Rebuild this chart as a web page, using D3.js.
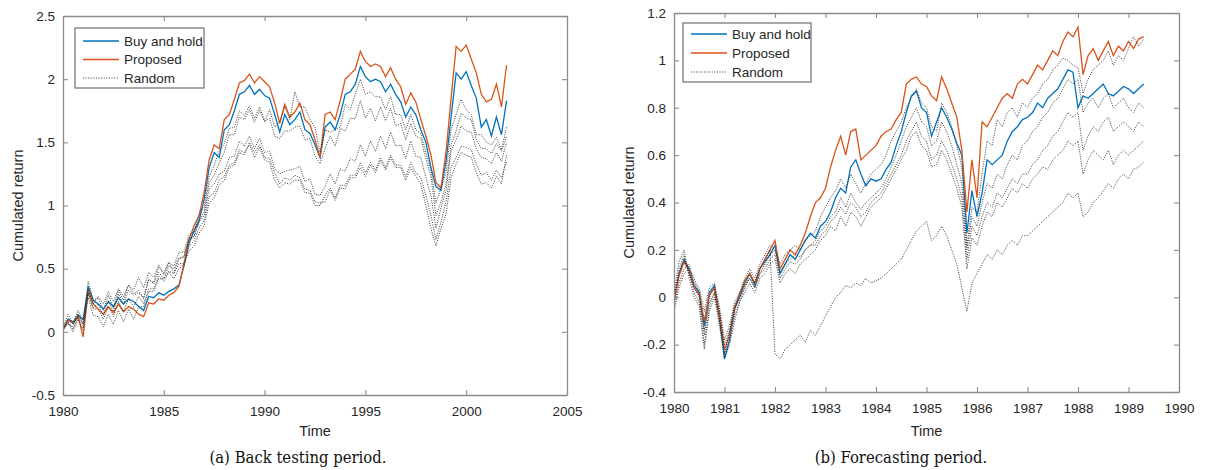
<!DOCTYPE html>
<html><head><meta charset="utf-8">
<script src="https://cdn.jsdelivr.net/npm/d3@7"></script>
<style>
html,body{margin:0;padding:0;background:#fff;}
svg text{font-family:"Liberation Sans",Arial,Helvetica,sans-serif;fill:#262626;}
svg text.caption{font-family:"DejaVu Serif Condensed","DejaVu Serif",serif;font-stretch:condensed;fill:#111;}
</style></head><body>
<svg id="chart" width="1206" height="470"></svg>
<script>
// ---------------- Panel (a): back testing period, sampled every quarter year 1980..2002
const timeA = d3.range(0, 89).map(i => 1980 + i * 0.25);
const buyHoldA = [
0.02, 0.10, 0.08, 0.13,
0.10, 0.36, 0.25, 0.22,
0.18, 0.24, 0.20, 0.27,
0.22, 0.26, 0.24, 0.20,
0.17, 0.28, 0.27, 0.31,
0.29, 0.32, 0.34, 0.37,
0.52, 0.70, 0.80, 0.88,
1.05, 1.30, 1.42, 1.38,
1.60, 1.64, 1.75, 1.88,
1.90, 1.95, 1.88, 1.92,
1.87, 1.85, 1.72, 1.58,
1.72, 1.64, 1.68, 1.74,
1.60, 1.57, 1.48, 1.38,
1.62, 1.66, 1.60, 1.72,
1.88, 1.90, 1.96, 2.10,
2.02, 1.98, 2.00, 1.98,
1.90, 1.96, 1.88, 1.82,
1.70, 1.78, 1.72, 1.60,
1.50, 1.30, 1.15, 1.12,
1.35, 1.70, 2.05, 2.00,
2.06, 1.95, 1.85, 1.62,
1.68, 1.55, 1.70, 1.56,
1.83];
const proposedA = [
0.02, 0.09, 0.07, 0.12,
-0.04, 0.33, 0.22, 0.18,
0.14, 0.20, 0.15, 0.22,
0.16, 0.20, 0.18, 0.14,
0.12, 0.23, 0.22, 0.26,
0.25, 0.29, 0.31, 0.36,
0.54, 0.73, 0.84, 0.92,
1.10, 1.36, 1.48, 1.45,
1.68, 1.72, 1.84, 1.97,
1.99, 2.04, 1.97, 2.02,
1.98, 1.94, 1.81, 1.65,
1.80, 1.70, 1.74, 1.81,
1.68, 1.64, 1.52, 1.38,
1.72, 1.74, 1.68, 1.83,
2.00, 2.04, 2.08, 2.22,
2.14, 2.10, 2.12, 2.10,
2.02, 2.09, 2.00, 1.94,
1.80, 1.89, 1.82, 1.68,
1.55, 1.40, 1.18, 1.14,
1.42, 1.85, 2.26, 2.22,
2.27, 2.16, 2.05, 1.88,
1.82, 1.84, 1.96, 1.78,
2.11];
const randomA1 = [
0.02, 0.10, 0.06, 0.14,
0.06, 0.34, 0.22, 0.28,
0.22, 0.32, 0.24, 0.34,
0.28, 0.37, 0.30, 0.33,
0.26, 0.42, 0.38, 0.47,
0.42, 0.52, 0.50, 0.58,
0.60, 0.74, 0.76, 0.88,
0.95, 1.18, 1.24, 1.34,
1.42, 1.56, 1.56, 1.70,
1.68, 1.76, 1.66, 1.75,
1.66, 1.76, 1.62, 1.66,
1.78, 1.68, 1.90, 1.78,
1.78, 1.68, 1.62, 1.42,
1.60, 1.58, 1.60, 1.62,
1.80, 1.76, 1.88, 2.00,
1.88, 1.90, 1.86, 1.86,
1.76, 1.86, 1.72, 1.72,
1.60, 1.72, 1.60, 1.57,
1.42, 1.28, 1.02, 1.14,
1.26, 1.60, 1.72, 1.84,
1.76, 1.72, 1.56, 1.56,
1.50, 1.48, 1.54, 1.44,
1.62];
const randomA2 = [
0.03, 0.14, 0.06, 0.17,
0.08, 0.31, 0.19, 0.22,
0.13, 0.24, 0.16, 0.30,
0.22, 0.33, 0.29, 0.31,
0.27, 0.41, 0.39, 0.51,
0.47, 0.55, 0.52, 0.63,
0.63, 0.77, 0.79, 0.93,
0.99, 1.23, 1.32, 1.43,
1.49, 1.61, 1.62, 1.75,
1.71, 1.79, 1.69, 1.78,
1.67, 1.69, 1.55, 1.53,
1.59, 1.59, 1.62, 1.63,
1.52, 1.53, 1.39, 1.33,
1.45, 1.55, 1.47, 1.61,
1.59, 1.69, 1.69, 1.83,
1.69, 1.77, 1.67, 1.78,
1.67, 1.77, 1.63, 1.65,
1.52, 1.65, 1.55, 1.53,
1.37, 1.23, 0.92, 1.03,
1.17, 1.48, 1.59, 1.73,
1.69, 1.68, 1.52, 1.45,
1.45, 1.41, 1.49, 1.43,
1.55];
const randomA3 = [
0.02, 0.08, 0.02, 0.12,
0.03, 0.40, 0.25, 0.27,
0.17, 0.29, 0.19, 0.33,
0.25, 0.37, 0.33, 0.43,
0.35, 0.47, 0.43, 0.53,
0.45, 0.55, 0.47, 0.58,
0.59, 0.73, 0.75, 0.87,
0.92, 1.13, 1.17, 1.25,
1.27, 1.38, 1.39, 1.51,
1.47, 1.55, 1.45, 1.53,
1.42, 1.43, 1.29, 1.25,
1.27, 1.28, 1.29, 1.31,
1.19, 1.21, 1.09, 1.08,
1.15, 1.25, 1.17, 1.29,
1.27, 1.37, 1.35, 1.48,
1.39, 1.51, 1.43, 1.55,
1.45, 1.58, 1.47, 1.48,
1.37, 1.51, 1.39, 1.38,
1.22, 1.08, 0.82, 0.98,
1.12, 1.43, 1.52, 1.63,
1.59, 1.58, 1.45, 1.38,
1.37, 1.33, 1.42, 1.35,
1.50];
const randomA4 = [
0.01, 0.07, 0.00, 0.10,
0.01, 0.27, 0.13, 0.12,
0.04, 0.14, 0.06, 0.17,
0.08, 0.18, 0.10, 0.20,
0.20, 0.32, 0.32, 0.42,
0.42, 0.48, 0.46, 0.54,
0.54, 0.68, 0.72, 0.82,
0.88, 1.07, 1.10, 1.20,
1.23, 1.32, 1.34, 1.44,
1.42, 1.48, 1.38, 1.46,
1.36, 1.34, 1.20, 1.14,
1.18, 1.17, 1.20, 1.20,
1.10, 1.10, 1.00, 1.00,
1.08, 1.14, 1.06, 1.16,
1.16, 1.24, 1.24, 1.34,
1.26, 1.34, 1.28, 1.38,
1.30, 1.40, 1.32, 1.32,
1.23, 1.34, 1.26, 1.22,
1.08, 0.92, 0.73, 0.87,
1.03, 1.30, 1.38, 1.47,
1.46, 1.44, 1.33, 1.24,
1.26, 1.20, 1.28, 1.22,
1.35];
const randomA5 = [
0.02, 0.06, 0.04, 0.14,
0.06, 0.30, 0.18, 0.18,
0.10, 0.20, 0.12, 0.24,
0.16, 0.26, 0.20, 0.28,
0.22, 0.34, 0.34, 0.44,
0.40, 0.47, 0.42, 0.50,
0.53, 0.64, 0.68, 0.78,
0.84, 1.02, 1.06, 1.16,
1.20, 1.30, 1.32, 1.42,
1.40, 1.50, 1.42, 1.48,
1.38, 1.37, 1.26, 1.17,
1.22, 1.20, 1.24, 1.22,
1.13, 1.12, 1.03, 1.02,
1.03, 1.12, 1.04, 1.14,
1.13, 1.22, 1.22, 1.30,
1.23, 1.32, 1.26, 1.36,
1.28, 1.38, 1.30, 1.30,
1.20, 1.30, 1.23, 1.17,
1.00, 0.82, 0.68, 0.82,
0.93, 1.22, 1.33, 1.42,
1.40, 1.38, 1.26, 1.17,
1.18, 1.14, 1.23, 1.17,
1.40];
const xTicksA = [1980, 1985, 1990, 1995, 2000, 2005];
const yTicksA = [-0.5, 0, 0.5, 1, 1.5, 2, 2.5];

// ---------------- Panel (b): forecasting period, sampled every 0.1 year 1980..1989.3
const timeB = d3.range(0, 94).map(i => 1980 + i * 0.1);
const buyHoldB = [
-0.02, 0.10, 0.16, 0.12, 0.05, 0.02, -0.12, 0.02, 0.05, -0.08,
-0.26, -0.18, -0.05, 0.00, 0.06, 0.10, 0.05, 0.12, 0.15, 0.18,
0.22, 0.10, 0.14, 0.18, 0.16, 0.20, 0.24, 0.27, 0.25, 0.30,
0.32, 0.36, 0.42, 0.46, 0.44, 0.55, 0.58, 0.52, 0.47, 0.50,
0.49, 0.50, 0.54, 0.57, 0.64, 0.70, 0.78, 0.85, 0.87, 0.80,
0.78, 0.68, 0.74, 0.80, 0.76, 0.71, 0.65, 0.60, 0.27, 0.45,
0.34, 0.44, 0.58, 0.56, 0.58, 0.60, 0.66, 0.70, 0.72, 0.75,
0.76, 0.78, 0.82, 0.80, 0.84, 0.86, 0.88, 0.92, 0.96, 0.95,
0.80, 0.85, 0.84, 0.86, 0.88, 0.90, 0.86, 0.85, 0.87, 0.89,
0.88, 0.86, 0.88, 0.90];
const proposedB = [
-0.02, 0.09, 0.15, 0.11, 0.04, 0.01, -0.10, 0.01, 0.04, -0.07,
-0.22, -0.16, -0.04, 0.01, 0.07, 0.10, 0.06, 0.12, 0.16, 0.20,
0.24, 0.12, 0.16, 0.20, 0.18, 0.22, 0.27, 0.34, 0.40, 0.42,
0.46, 0.55, 0.62, 0.68, 0.60, 0.70, 0.71, 0.58, 0.60, 0.62,
0.64, 0.68, 0.70, 0.71, 0.75, 0.78, 0.90, 0.92, 0.93, 0.90,
0.89, 0.85, 0.83, 0.93, 0.88, 0.82, 0.76, 0.62, 0.36, 0.58,
0.42, 0.74, 0.72, 0.76, 0.80, 0.84, 0.86, 0.84, 0.90, 0.92,
0.90, 0.94, 0.98, 0.96, 1.00, 1.04, 1.02, 1.08, 1.12, 1.10,
1.14, 0.94, 1.02, 1.05, 1.00, 1.04, 1.08, 1.02, 1.06, 1.04,
1.08, 1.05, 1.09, 1.10];
const randomB1 = [
0.00, 0.12, 0.18, 0.10, 0.02, -0.02, -0.20, -0.04, 0.02, -0.10,
-0.24, -0.14, -0.06, 0.02, 0.08, 0.12, 0.08, 0.14, 0.18, 0.22,
0.20, 0.14, 0.18, 0.20, 0.22, 0.20, 0.24, 0.26, 0.28, 0.34,
0.38, 0.42, 0.45, 0.50, 0.46, 0.52, 0.48, 0.44, 0.48, 0.52,
0.54, 0.56, 0.60, 0.66, 0.70, 0.74, 0.80, 0.84, 0.88, 0.82,
0.80, 0.72, 0.70, 0.82, 0.78, 0.72, 0.64, 0.55, 0.22, 0.38,
0.36, 0.52, 0.66, 0.64, 0.75, 0.72, 0.78, 0.80, 0.76, 0.82,
0.80, 0.84, 0.86, 0.90, 0.92, 0.96, 0.98, 1.01, 1.00, 0.98,
0.97, 0.86, 0.92, 0.96, 0.98, 1.00, 1.04, 0.98, 1.02, 1.00,
1.05, 1.10, 1.06, 1.09];
const randomB2 = [
-0.04, 0.06, 0.12, 0.14, 0.06, 0.04, -0.06, 0.04, 0.06, -0.04,
-0.18, -0.12, -0.02, 0.02, 0.05, 0.08, 0.04, 0.10, 0.12, 0.16,
0.18, 0.08, 0.12, 0.15, 0.14, 0.16, 0.20, 0.22, 0.24, 0.28,
0.30, 0.34, 0.36, 0.42, 0.38, 0.44, 0.40, 0.37, 0.40, 0.42,
0.44, 0.46, 0.50, 0.55, 0.60, 0.66, 0.72, 0.76, 0.80, 0.74,
0.72, 0.64, 0.66, 0.74, 0.70, 0.64, 0.56, 0.48, 0.20, 0.34,
0.30, 0.40, 0.48, 0.46, 0.52, 0.50, 0.56, 0.60, 0.58, 0.64,
0.66, 0.70, 0.72, 0.76, 0.78, 0.82, 0.84, 0.88, 0.92, 0.90,
0.92, 0.78, 0.82, 0.84, 0.80, 0.84, 0.86, 0.80, 0.82, 0.84,
0.80, 0.78, 0.82, 0.80];
const randomB3 = [
0.02, 0.15, 0.20, 0.08, 0.00, -0.04, -0.22, -0.06, 0.00, -0.12,
-0.26, -0.20, -0.10, -0.02, 0.02, 0.06, 0.02, 0.08, 0.10, 0.14,
0.16, 0.06, 0.10, 0.12, 0.10, 0.14, 0.16, 0.18, 0.20, 0.24,
0.26, 0.30, 0.28, 0.34, 0.30, 0.36, 0.34, 0.30, 0.34, 0.38,
0.40, 0.42, 0.46, 0.50, 0.54, 0.58, 0.62, 0.68, 0.70, 0.64,
0.62, 0.55, 0.56, 0.62, 0.58, 0.52, 0.46, 0.38, 0.12, 0.25,
0.22, 0.30, 0.36, 0.34, 0.40, 0.38, 0.42, 0.46, 0.44, 0.48,
0.46, 0.50, 0.52, 0.55, 0.54, 0.58, 0.60, 0.62, 0.66, 0.64,
0.66, 0.52, 0.58, 0.62, 0.60, 0.58, 0.62, 0.56, 0.60, 0.62,
0.60, 0.62, 0.64, 0.66];
const randomB4 = [
-0.06, 0.04, 0.10, 0.12, 0.08, 0.02, -0.16, 0.00, 0.04, -0.06,
-0.20, -0.14, -0.04, 0.00, 0.04, 0.08, 0.04, 0.10, 0.14, 0.18,
0.20, 0.10, 0.14, 0.16, 0.18, 0.17, 0.20, 0.22, 0.22, 0.26,
0.28, 0.32, 0.34, 0.38, 0.35, 0.40, 0.38, 0.34, 0.36, 0.40,
0.42, 0.44, 0.48, 0.52, 0.56, 0.60, 0.66, 0.70, 0.74, 0.68,
0.66, 0.58, 0.60, 0.66, 0.62, 0.56, 0.50, 0.42, 0.16, 0.30,
0.26, 0.34, 0.40, 0.38, 0.44, 0.42, 0.46, 0.50, 0.48, 0.52,
0.52, 0.56, 0.58, 0.62, 0.64, 0.68, 0.70, 0.74, 0.78, 0.76,
0.78, 0.62, 0.68, 0.72, 0.70, 0.74, 0.76, 0.70, 0.72, 0.74,
0.72, 0.70, 0.74, 0.72];
const randomB5 = [
0.00, 0.10, 0.16, 0.10, 0.04, 0.00, -0.14, -0.02, 0.02, -0.10,
-0.24, -0.18, -0.08, -0.02, 0.04, 0.10, 0.06, 0.12, 0.16, 0.20,
-0.24, -0.26, -0.22, -0.20, -0.18, -0.16, -0.19, -0.14, -0.16, -0.12,
-0.08, -0.04, 0.00, 0.02, 0.05, 0.04, 0.06, 0.05, 0.08, 0.06,
0.07, 0.08, 0.10, 0.12, 0.14, 0.16, 0.20, 0.24, 0.28, 0.30,
0.32, 0.24, 0.26, 0.30, 0.26, 0.20, 0.14, 0.04, -0.06, 0.06,
0.10, 0.14, 0.18, 0.16, 0.20, 0.18, 0.22, 0.24, 0.22, 0.26,
0.26, 0.28, 0.30, 0.32, 0.34, 0.36, 0.38, 0.40, 0.44, 0.42,
0.44, 0.34, 0.36, 0.40, 0.42, 0.45, 0.48, 0.46, 0.50, 0.52,
0.50, 0.54, 0.55, 0.57];
const xTicksB = [1980, 1981, 1982, 1983, 1984, 1985, 1986, 1987, 1988, 1989, 1990];
const yTicksB = [-0.4, -0.2, 0, 0.2, 0.4, 0.6, 0.8, 1, 1.2];

const legendLabels = ["Buy and hold", "Proposed", "Random"];
const captions = ["(a) Back testing period.", "(b) Forecasting period."];
const colBlue = "#0072BD", colOrange = "#D95319", colRand = "#262626";

const svg = d3.select("#chart");

function panel(o) {
  const x = d3.scaleLinear().domain(o.xDomain).range([o.left, o.right]);
  const y = d3.scaleLinear().domain(o.yDomain).range([o.bottom, o.top]);
  const g = svg.append("g");
  const clipId = "clip" + o.id;
  g.append("clipPath").attr("id", clipId).append("rect")
    .attr("x", o.left).attr("y", o.top).attr("width", o.right - o.left).attr("height", o.bottom - o.top);
  const plot = g.append("g").attr("clip-path", `url(#${clipId})`);
  const line = d3.line().x((d, i) => x(o.t[i])).y(d => y(d));
  plot.append("path").attr("d", line(o.blue)).attr("fill", "none").attr("stroke", colBlue).attr("stroke-width", 1.3);
  plot.append("path").attr("d", line(o.orange)).attr("fill", "none").attr("stroke", colOrange).attr("stroke-width", 1.3);
  o.randoms.forEach(r => {
    plot.append("path").attr("d", line(r)).attr("fill", "none").attr("stroke", colRand)
      .attr("stroke-width", 0.9).attr("stroke-dasharray", "1,1.4");
  });

  const fmt = d => String(d);
  const axB = g.append("g").attr("transform", `translate(0,${o.bottom})`)
    .call(d3.axisBottom(x).tickValues(o.xTicks).tickFormat(fmt).tickSize(-5).tickSizeOuter(0).tickPadding(11));
  const axT = g.append("g").attr("transform", `translate(0,${o.top})`)
    .call(d3.axisTop(x).tickValues(o.xTicks).tickFormat("").tickSize(-5).tickSizeOuter(0));
  const axL = g.append("g").attr("transform", `translate(${o.left},0)`)
    .call(d3.axisLeft(y).tickValues(o.yTicks).tickFormat(fmt).tickSize(-5).tickSizeOuter(0).tickPadding(8));
  const axR = g.append("g").attr("transform", `translate(${o.right},0)`)
    .call(d3.axisRight(y).tickValues(o.yTicks).tickFormat("").tickSize(-5).tickSizeOuter(0));
  [axB, axT, axL, axR].forEach(a => {
    a.selectAll("path.domain").attr("stroke", "#8c8c8c").attr("stroke-width", 1.3);
    a.selectAll(".tick line").attr("stroke", "#8c8c8c").attr("stroke-width", 1.1);
    a.selectAll("text").attr("font-size", 13.5);
  });

  // axis titles
  g.append("text").attr("x", (o.left + o.right) / 2).attr("y", 436).attr("text-anchor", "middle")
    .attr("font-size", 14.5).text("Time");
  g.append("text").attr("transform", `translate(${o.left - 40},${(o.top + o.bottom) / 2}) rotate(-90)`)
    .attr("text-anchor", "middle").attr("font-size", 14.5).text("Cumulated return");

  // legend
  const L = o.legend;
  g.append("rect").attr("x", L.x).attr("y", L.y).attr("width", L.w).attr("height", L.h)
    .attr("fill", "#fff").attr("stroke", "#6e6e6e").attr("stroke-width", 1.2);
  const styles = [
    { c: colBlue, w: 1.3, d: null },
    { c: colOrange, w: 1.3, d: null },
    { c: colRand, w: 0.9, d: "1,1.6" }
  ];
  legendLabels.forEach((lab, i) => {
    const yy = L.y + L.row0 + i * L.dy;
    const ln = g.append("line").attr("x1", L.x + 8).attr("x2", L.x + 44).attr("y1", yy).attr("y2", yy)
      .attr("stroke", styles[i].c).attr("stroke-width", styles[i].w);
    if (styles[i].d) ln.attr("stroke-dasharray", styles[i].d);
    g.append("text").attr("x", L.x + 49).attr("y", yy).attr("dy", "0.35em")
      .attr("font-size", 13.5).text(lab);
  });

  // caption
  svg.append("text").attr("class", "caption").attr("x", o.capX).attr("y", 463).attr("text-anchor", "middle")
    .attr("font-size", 16.5).text(o.caption);
}

panel({
  id: "A", t: timeA, blue: buyHoldA, orange: proposedA,
  randoms: [randomA1, randomA2, randomA3, randomA4, randomA5],
  xDomain: [1980, 2005], yDomain: [-0.5, 2.5],
  left: 63, right: 567, top: 16, bottom: 395,
  xTicks: xTicksA, yTicks: yTicksA,
  legend: { x: 75, y: 28, w: 129, h: 60, row0: 13, dy: 18.5 },
  caption: captions[0], capX: 298
});
panel({
  id: "B", t: timeB, blue: buyHoldB, orange: proposedB,
  randoms: [randomB1, randomB2, randomB3, randomB4, randomB5],
  xDomain: [1980, 1990], yDomain: [-0.4, 1.2],
  left: 674, right: 1179, top: 13, bottom: 392,
  xTicks: xTicksB, yTicks: yTicksB,
  legend: { x: 683, y: 23, w: 128, h: 59, row0: 11, dy: 19 },
  caption: captions[1], capX: 901
});
</script>
</body></html>
